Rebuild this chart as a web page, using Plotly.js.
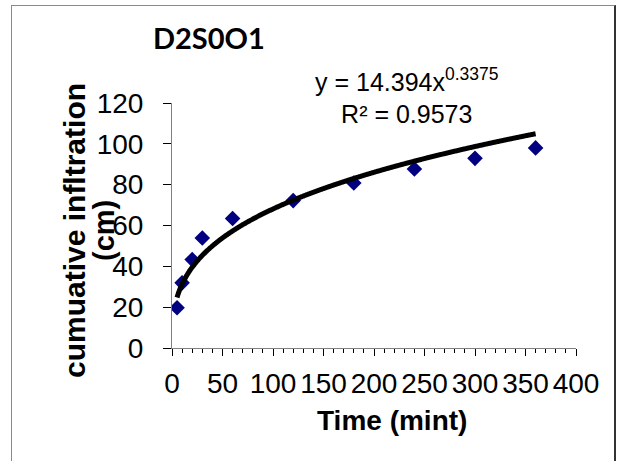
<!DOCTYPE html>
<html><head><meta charset="utf-8">
<script src="https://cdn.plot.ly/plotly-3.0.1.min.js"></script>
<style>
html,body{margin:0;padding:0;background:#fff;}
#wrap{position:relative;width:624px;height:461px;overflow:hidden;}
#frame{position:absolute;left:11px;top:5px;width:602px;height:480px;border-left:1.5px solid #8a8a8a;border-top:1.5px solid #8a8a8a;border-right:2px solid #333;pointer-events:none;}
</style>
</head><body>
<div id="wrap"><div id="chart" style="width:624px;height:461px"></div><div id="frame"></div></div>
<script>
// ---- data ----
const timeMin = [5, 10, 20, 30, 60, 120, 180, 240, 300, 360];
const cumInfiltration = [19.7, 31.9, 43.3, 53.9, 63.4, 72.2, 80.8, 87.7, 92.9, 98.0];
const fitCoefA = 14.394;
const fitExpB = 0.3375;
const fitR2Text = "0.9573";
const xTickVals = [0, 50, 100, 150, 200, 250, 300, 350, 400];
const yTickVals = [0, 20, 40, 60, 80, 100, 120];
const chartTitle = "D2S0O1";
const xTitle = "Time (mint)";
const yTitleLines = ["cumuative infltration", "(cm)"];

// power trendline y = A x^B over the data's time span
const fitX = [], fitY = [];
for (let t = timeMin[0]; t <= timeMin[timeMin.length - 1]; t += 1) {
  fitX.push(t); fitY.push(fitCoefA * Math.pow(t, fitExpB));
}

const W = 624, H = 461;
const M = {l: 172, r: 48, t: 103, b: 113};
const px2x = p => (p - M.l) / (W - M.l - M.r);
const py2y = p => (H - M.b - p) / (H - M.t - M.b);

const tickFont = {family: "Liberation Sans, Arial, sans-serif", size: 28, color: "#000"};
const boldFont = {family: "Liberation Sans, Arial, sans-serif", size: 28, color: "#000"};

const traces = [
  {x: timeMin, y: cumInfiltration, type: "scatter", mode: "markers",
   marker: {symbol: "diamond", size: 12, color: "#000080"}, hoverinfo: "none"},
  {x: fitX, y: fitY, type: "scatter", mode: "lines",
   line: {color: "#000", width: 5, shape: "spline"}, hoverinfo: "none"}
];

const layout = {
  width: W, height: H, showlegend: false,
  margin: M, paper_bgcolor: "#fff", plot_bgcolor: "#fff",
  xaxis: {range: [0, 400], tickvals: xTickVals, ticktext: xTickVals.map(String),
    showgrid: false, zeroline: false, showline: true, linecolor: "#808080", linewidth: 1,
    ticks: "outside", ticklen: 7, tickwidth: 1, tickcolor: "#000",
    minor: {dtick: 10, ticks: "outside", ticklen: 4, tickwidth: 1, tickcolor: "#000", showgrid: false},
    tickfont: tickFont, ticklabelstandoff: 3, automargin: false, fixedrange: true},
  yaxis: {range: [0, 120], tickvals: yTickVals, ticktext: yTickVals.map(v => v + "\u2002"),
    showgrid: false, zeroline: false, showline: true, linecolor: "#808080", linewidth: 1,
    ticks: "outside", ticklen: 8, tickwidth: 1, tickcolor: "#000",
    tickfont: tickFont, automargin: false, fixedrange: true},
  annotations: [
    {text: "<b>" + chartTitle + "</b>", xref: "paper", yref: "paper", x: px2x(209), y: py2y(37),
     xanchor: "center", yanchor: "middle", showarrow: false,
     font: {family: "Lato, Open Sans, sans-serif", size: 29, color: "#000"}},
    {text: "y = " + fitCoefA + "x<sup>" + fitExpB + "</sup><br>R² = " + fitR2Text,
     xref: "paper", yref: "paper", x: px2x(407), y: py2y(96),
     xanchor: "center", yanchor: "middle", showarrow: false, align: "center",
     font: {family: "Liberation Sans, Arial, sans-serif", size: 25, color: "#000"}},
    {text: "<b>" + xTitle + "</b>", xref: "paper", yref: "paper", x: px2x(392), y: py2y(420),
     xanchor: "center", yanchor: "middle", showarrow: false, font: boldFont},
    {text: "<b>" + yTitleLines[0] + "</b>", xref: "paper", yref: "paper", x: px2x(74), y: py2y(231),
     xanchor: "center", yanchor: "middle", showarrow: false, textangle: -90,
     font: {family: "Liberation Sans, Arial, sans-serif", size: 30, color: "#000"}},
    {text: "<b>" + yTitleLines[1] + "</b>", xref: "paper", yref: "paper", x: px2x(104), y: py2y(231),
     xanchor: "center", yanchor: "middle", showarrow: false, textangle: -90,
     font: {family: "Liberation Sans, Arial, sans-serif", size: 29, color: "#000"}}
  ]
};

Plotly.newPlot("chart", traces, layout, {staticPlot: true, displayModeBar: false});
</script>
</body></html>
